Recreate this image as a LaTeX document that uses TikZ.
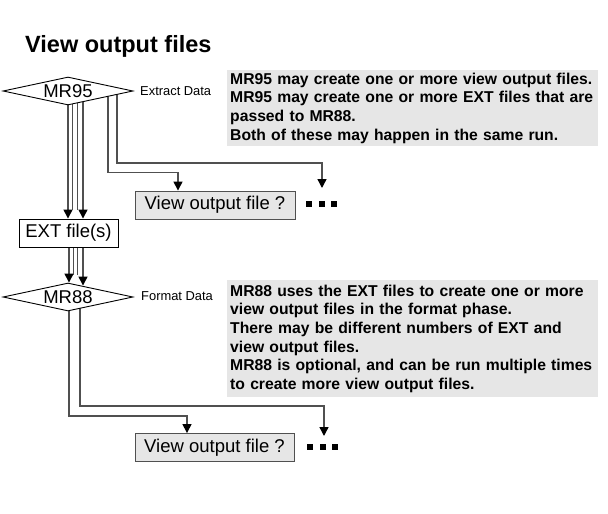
\documentclass[tikz,border=0pt]{standalone}
\usepackage{fontspec}
\setmainfont{Liberation Sans}
\usetikzlibrary{shapes.geometric,arrows.meta,calc,backgrounds}
\definecolor{lineg}{HTML}{505050}
\definecolor{boxg}{HTML}{E6E6E6}
\begin{document}
\begin{tikzpicture}[x=1pt,y=-1pt,
  decision/.style={shape=diamond,aspect=4.64,draw=black,line width=0.9pt,fill=white,minimum width=130pt,minimum height=28pt,inner sep=0pt,font=\fontsize{18.5}{20}\selectfont},
  filebox/.style={draw=black,line width=0.9pt,fill=white,minimum width=99pt,minimum height=28pt,inner sep=0pt,font=\fontsize{18.5}{20}\selectfont},
  viewbox/.style={draw=lineg,line width=0.9pt,fill=boxg,minimum width=160pt,minimum height=28pt,inner sep=0pt,font=\fontsize{18.5}{20}\selectfont},
  note/.style={fill=boxg,text width=365pt,inner xsep=3pt,inner ysep=0pt,align=left,font=\fontsize{15.7}{18.7}\selectfont\bfseries},
  phase/.style={inner sep=0pt,anchor=west,font=\fontsize{12.9}{14}\selectfont},
  conn/.style={draw=lineg,line width=1.4pt},
  arr/.style={-{Triangle[length=9pt,width=9pt,color=black]}},
  dotsq/.style={fill=black}
]
\useasboundingbox (0,0) rectangle (608,514);

\node[inner sep=0pt,anchor=base west,font=\fontsize{23.5}{26}\selectfont\bfseries] (title) at (25,52) {View output files};

\node[decision] (mr95) at (68,91) {MR95};
\node[phase] (extract) at (140,91) {Extract Data};
\node[note,minimum height=76pt,anchor=north west] (noteA) at (227,70) {MR95 may create one or more view output files.\\MR95 may create one or more EXT files that are\\passed to MR88.\\Both of these may happen in the same run.};

\node[viewbox] (view1) at (215,205) {View output file ?};
\node[minimum width=32pt,minimum height=8pt,inner sep=0pt] (dots1) at (321.5,204) {};
\foreach \d in {-12.5,0,12.5} \fill[dotsq] ($(dots1.center)+(\d,0)$) +(-3,-3) rectangle +(3,3);

\node[filebox] (ext) at (68.5,233) {EXT file(s)};

\node[decision] (mr88) at (68,297) {MR88};
\node[phase] (format) at (141,296.5) {Format Data};
\node[note,minimum height=117pt,anchor=north west] (noteB) at (227,280) {MR88 uses the EXT files to create one or more\\view output files in the format phase.\\There may be different numbers of EXT and\\view output files.\\MR88 is optional, and can be run multiple times\\to create more view output files.};

\node[viewbox,minimum width=159pt] (view2) at (214.5,447.5) {View output file ?};
\node[minimum width=32pt,minimum height=8pt,inner sep=0pt] (dots2) at (322.5,447) {};
\foreach \d in {-12.5,0,12.5} \fill[dotsq] ($(dots2.center)+(\d,0)$) +(-3,-3) rectangle +(3,3);

\begin{scope}[on background layer]
% MR95 -> EXT
\draw[conn,arr] (mr95.center) -- (mr95.center |- ext.north);
\draw[conn] ($(mr95.center)+(4.5,0)$) -- ($(mr95.center |- ext.north)+(4.5,-9)$);
\draw[conn] ($(mr95.center)+(9.5,0)$) -- ($(mr95.center |- ext.north)+(9.5,-9)$);
\draw[conn,arr] ($(mr95.center)+(15,0)$) -- ($(mr95.center |- ext.north)+(15,0)$);
% MR95 -> view outputs
\draw[conn,arr] ($(mr95.center)+(40,0)$) |- ($(view1.north)+(-37,-18)$) -- ($(view1.north)+(-37,0)$);
\draw[conn,arr] ($(mr95.center)+(49,0)$) |- ($(dots1.center)+(0.5,-41)$) -- ($(dots1.center)+(0.5,-16)$);
% EXT -> MR88
\draw[conn,arr] ($(ext.south)+(0.5,0)$) -- ($(mr88.north)+(1,0)$);
\draw[conn] ($(ext.south)+(5,0)$) -- ($(mr88.north)+(5.5,-8)$);
\draw[conn] ($(ext.south)+(9,0)$) -- ($(mr88.north)+(9.5,-8)$);
\draw[conn,arr] ($(ext.south)+(14.5,0)$) -- ($(mr88.north)+(15,3)$);
% MR88 -> view outputs
\draw[conn,arr] ($(mr88.center)+(1,0)$) |- ($(view2.north)+(-27.5,-17)$) -- ($(view2.north)+(-27.5,0)$);
\draw[conn,arr] ($(mr88.center)+(12,0)$) |- ($(dots2.center)+(1.5,-41)$) -- ($(dots2.center)+(1.5,-11)$);
\end{scope}
\end{tikzpicture}
\end{document}
